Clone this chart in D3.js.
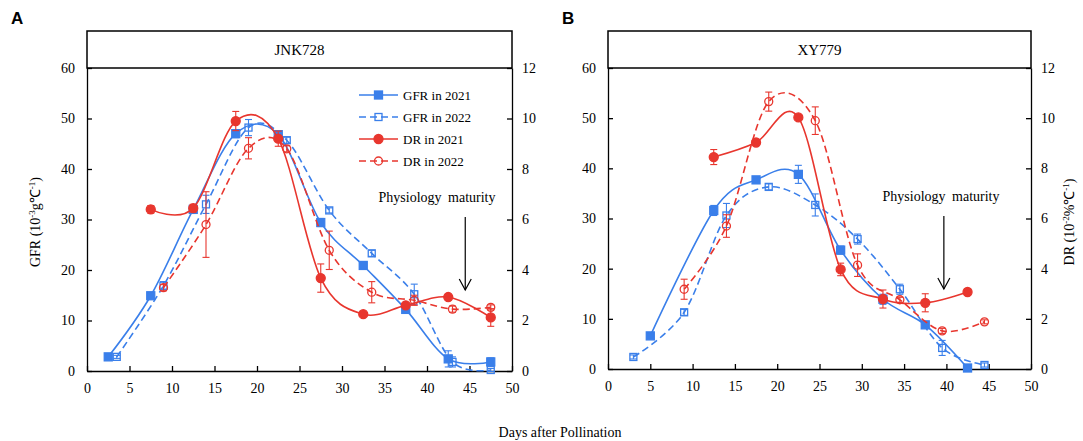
<!DOCTYPE html>
<html>
<head>
<meta charset="utf-8">
<script src="https://cdnjs.cloudflare.com/ajax/libs/d3/7.8.5/d3.min.js"></script>
<style>
  body { margin: 0; background: #fff; }
  svg { display: block; font-family: "Liberation Serif", "Times New Roman", serif; }
</style>
</head>
<body>
<svg id="chart" width="1083" height="441"></svg>
<script>
// ---- donnees ----
var xTicks = [0, 5, 10, 15, 20, 25, 30, 35, 40, 45, 50];
var gfrTicks = [0, 10, 20, 30, 40, 50, 60];
var drTicks = [0, 2, 4, 6, 8, 10, 12];
var legendLabels = ["GFR in 2021", "GFR in 2022", "DR in 2021", "DR in 2022"];

// JNK728
var jnkGfr21Day = [2.5, 7.5, 12.5, 17.5, 22.5, 27.5, 32.5, 37.5, 42.5, 47.5];
var jnkGfr21 = [2.8, 14.9, 32.0, 47.0, 46.8, 29.4, 20.9, 12.2, 2.4, 1.8];
var jnkGfr21Err = [0.3, 0.6, 0.8, 0.8, 0.6, 0.8, 0.5, 0.6, 1.6, 0.8];
var jnkGfr22Day = [3.5, 9, 14, 19, 23.5, 28.5, 33.5, 38.5, 43, 47.5];
var jnkGfr22 = [2.8, 16.9, 33.0, 48.2, 45.7, 31.8, 23.3, 15.2, 1.8, 0.2];
var jnkGfr22Err = [0.3, 0.8, 1.8, 1.6, 0.6, 0.5, 0.6, 2.0, 1.0, 0.3];
var jnkDr21Day = [7.5, 12.5, 17.5, 22.5, 27.5, 32.5, 37.5, 42.5, 47.5];
var jnkDr21 = [6.4, 6.45, 9.9, 9.2, 3.68, 2.25, 2.6, 2.93, 2.12];
var jnkDr21Err = [0.15, 0.15, 0.38, 0.3, 0.56, 0.08, 0.08, 0.08, 0.35];
var jnkDr22Day = [9, 14, 19, 23.5, 28.5, 33.5, 38.5, 43, 47.5];
var jnkDr22 = [3.3, 5.8, 8.82, 8.8, 4.78, 3.12, 2.8, 2.45, 2.52];
var jnkDr22Err = [0.12, 1.3, 0.42, 0.12, 0.76, 0.42, 0.2, 0.12, 0.1];

// XY779
var xyGfr21Day = [5, 12.5, 17.5, 22.5, 27.5, 32.5, 37.5, 42.5];
var xyGfr21 = [6.6, 31.6, 37.7, 38.8, 23.7, 13.9, 8.8, 0.2];
var xyGfr21Err = [0.5, 1.0, 0.6, 1.8, 0.8, 1.0, 0.6, 0.3];
var xyGfr22Day = [3, 9, 14, 19, 24.5, 29.5, 34.5, 39.5, 44.5];
var xyGfr22 = [2.4, 11.3, 30.6, 36.3, 32.7, 25.9, 15.9, 4.2, 0.8];
var xyGfr22Err = [0.4, 0.6, 2.4, 0.6, 2.2, 1.0, 1.0, 1.5, 0.4];
var xyDr21Day = [12.5, 17.5, 22.5, 27.5, 32.5, 37.5, 42.5];
var xyDr21 = [8.45, 9.03, 10.03, 3.97, 2.79, 2.64, 3.07];
var xyDr21Err = [0.3, 0.1, 0.1, 0.25, 0.36, 0.36, 0.12];
var xyDr22Day = [9, 14, 19, 24.5, 29.5, 34.5, 39.5, 44.5];
var xyDr22 = [3.18, 5.7, 10.66, 9.9, 4.14, 2.76, 1.52, 1.88];
var xyDr22Err = [0.4, 0.45, 0.38, 0.55, 0.45, 0.1, 0.1, 0.08];

var blue = "#3a7fea", red = "#e8362e";

var svg = d3.select("#chart");

function pts(days, vals, errs) {
    return days.map(function(d, i) { return {x: d, y: vals[i], e: errs[i]}; });
}

function drawPanel(p) {
    var x = d3.scaleLinear().domain([0, 50]).range([p.left, p.right]);
    var y = d3.scaleLinear().domain([0, 60]).range([p.bottom, p.top]);
    var y2 = d3.scaleLinear().domain([0, 12]).range([p.bottom, p.top]);
    var g = svg.append("g");

    // cadre du titre
    g.append("rect")
        .attr("x", p.left).attr("y", p.top - 37)
        .attr("width", p.right - p.left).attr("height", 37)
        .attr("fill", "none").attr("stroke", "#000").attr("stroke-width", 1.5);
    g.append("text")
        .attr("x", (p.left + p.right) / 2).attr("y", p.top - 13)
        .attr("text-anchor", "middle").style("font-size", "15px")
        .text(p.title);

    // axes
    var ax = g.append("g").attr("transform", "translate(0," + p.bottom + ")")
        .call(d3.axisBottom(x).tickValues(xTicks).tickSizeInner(-5).tickSizeOuter(0).tickPadding(12));
    var ay = g.append("g").attr("transform", "translate(" + p.left + ",0)")
        .call(d3.axisLeft(y).tickValues(gfrTicks).tickSizeInner(-5).tickSizeOuter(0).tickPadding(12));
    var ay2 = g.append("g").attr("transform", "translate(" + p.right + ",0)")
        .call(d3.axisRight(y2).tickValues(drTicks).tickSizeInner(-5).tickSizeOuter(0).tickPadding(10));
    [ax, ay, ay2].forEach(function(a) {
        a.selectAll("path, line").attr("stroke", "#000").attr("stroke-width", 1.3);
        a.selectAll("text").attr("fill", "#000")
            .style("font-family", "Liberation Serif, serif").style("font-size", "14px");
    });

    // courbes
    var series = [
        {data: pts(p.g21d, p.g21, p.g21e), sc: y, col: blue, dash: null, mark: "sq", fill: true},
        {data: pts(p.g22d, p.g22, p.g22e), sc: y, col: blue, dash: "7,4", mark: "sq", fill: false},
        {data: pts(p.d21d, p.d21, p.d21e), sc: y2, col: red, dash: null, mark: "ci", fill: true},
        {data: pts(p.d22d, p.d22, p.d22e), sc: y2, col: red, dash: "7,4", mark: "ci", fill: false}
    ];
    series.forEach(function(s) {
        var line = d3.line().curve(d3.curveCatmullRom.alpha(0))
            .x(function(d) { return x(d.x); })
            .y(function(d) { return s.sc(d.y); });
        var sg = g.append("g");
        sg.append("path").datum(s.data)
            .attr("d", line).attr("fill", "none")
            .attr("stroke", s.col).attr("stroke-width", 1.6)
            .attr("stroke-dasharray", s.dash);
        // barres d'erreur
        var eb = sg.selectAll(".eb").data(s.data).enter().append("g")
            .attr("stroke", s.col).attr("stroke-width", 1.1);
        eb.append("line")
            .attr("x1", function(d) { return x(d.x); }).attr("x2", function(d) { return x(d.x); })
            .attr("y1", function(d) { return s.sc(d.y - d.e); })
            .attr("y2", function(d) { return s.sc(d.y + d.e); });
        [-1, 1].forEach(function(k) {
            eb.append("line")
                .attr("x1", function(d) { return x(d.x) - 3.5; })
                .attr("x2", function(d) { return x(d.x) + 3.5; })
                .attr("y1", function(d) { return s.sc(d.y + k * d.e); })
                .attr("y2", function(d) { return s.sc(d.y + k * d.e); });
        });
        // marqueurs
        var m = sg.selectAll(".m").data(s.data).enter();
        if (s.mark === "sq") {
            var sz = s.fill ? 8 : 7;
            m.append("rect")
                .attr("x", function(d) { return x(d.x) - sz / 2; })
                .attr("y", function(d) { return s.sc(d.y) - sz / 2; })
                .attr("width", sz).attr("height", sz)
                .attr("fill", s.fill ? s.col : "none")
                .attr("stroke", s.col).attr("stroke-width", 1.3);
        } else {
            m.append("circle")
                .attr("cx", function(d) { return x(d.x); })
                .attr("cy", function(d) { return s.sc(d.y); })
                .attr("r", s.fill ? 4.5 : 4)
                .attr("fill", s.fill ? s.col : "none")
                .attr("stroke", s.col).attr("stroke-width", 1.3);
        }
    });

    // maturite physiologique
    g.append("text").attr("x", p.matX).attr("y", p.matTxtY)
        .attr("text-anchor", "middle").style("font-size", "14px").style("word-spacing", "3px")
        .text("Physiology maturity");
    var ar = x(p.matDay);
    g.append("line").attr("x1", ar).attr("x2", ar)
        .attr("y1", p.matTxtY + 15).attr("y2", p.matTxtY + 88)
        .attr("stroke", "#000").attr("stroke-width", 1.2);
    g.append("path")
        .attr("d", "M" + (ar - 6) + "," + (p.matTxtY + 77) + "L" + ar + "," + (p.matTxtY + 88) + "L" + (ar + 6) + "," + (p.matTxtY + 77))
        .attr("fill", "none").attr("stroke", "#000").attr("stroke-width", 1.2);

    // lettre du panneau
    svg.append("text").attr("x", p.letterX).attr("y", 24)
        .style("font-family", "Liberation Sans, Arial, sans-serif")
        .style("font-weight", "bold").style("font-size", "17px")
        .text(p.letter);

    return {series: series};
}

var pA = drawPanel({
    left: 87, right: 512, top: 68, bottom: 371, title: "JNK728", letter: "A", letterX: 11,
    g21d: jnkGfr21Day, g21: jnkGfr21, g21e: jnkGfr21Err,
    g22d: jnkGfr22Day, g22: jnkGfr22, g22e: jnkGfr22Err,
    d21d: jnkDr21Day, d21: jnkDr21, d21e: jnkDr21Err,
    d22d: jnkDr22Day, d22: jnkDr22, d22e: jnkDr22Err,
    matX: 437, matTxtY: 202, matDay: 44.5
});
var pB = drawPanel({
    left: 608, right: 1031, top: 68, bottom: 369, title: "XY779", letter: "B", letterX: 562,
    g21d: xyGfr21Day, g21: xyGfr21, g21e: xyGfr21Err,
    g22d: xyGfr22Day, g22: xyGfr22, g22e: xyGfr22Err,
    d21d: xyDr21Day, d21: xyDr21, d21e: xyDr21Err,
    d22d: xyDr22Day, d22: xyDr22, d22e: xyDr22Err,
    matX: 941, matTxtY: 201, matDay: 39.7
});

// legende (panneau A)
var leg = svg.append("g");
pA.series.forEach(function(s, i) {
    var ly = 95 + i * 22;
    leg.append("line").attr("x1", 359).attr("x2", 398).attr("y1", ly).attr("y2", ly)
        .attr("stroke", s.col).attr("stroke-width", 1.6).attr("stroke-dasharray", s.dash);
    if (s.mark === "sq") {
        var sz = s.fill ? 8 : 7;
        leg.append("rect").attr("x", 378.5 - sz / 2).attr("y", ly - sz / 2)
            .attr("width", sz).attr("height", sz)
            .attr("fill", s.fill ? s.col : "none").attr("stroke", s.col).attr("stroke-width", 1.3);
    } else {
        leg.append("circle").attr("cx", 378.5).attr("cy", ly).attr("r", s.fill ? 4.5 : 4)
            .attr("fill", s.fill ? s.col : "none").attr("stroke", s.col).attr("stroke-width", 1.3);
    }
    leg.append("text").attr("x", 403).attr("y", ly + 5).style("font-size", "13px")
        .text(legendLabels[i]);
});

// titres des axes
var t1 = svg.append("text").attr("transform", "translate(40,222) rotate(-90)")
    .attr("text-anchor", "middle").style("font-size", "14px");
t1.append("tspan").text("GFR (10");
t1.append("tspan").attr("baseline-shift", "super").style("font-size", "9px").text("-3");
t1.append("tspan").text("g℃");
t1.append("tspan").attr("baseline-shift", "super").style("font-size", "9px").text("-1");
t1.append("tspan").text(")");

var t2 = svg.append("text").attr("transform", "translate(1074,222) rotate(-90)")
    .attr("text-anchor", "middle").style("font-size", "14px");
t2.append("tspan").text("DR (10");
t2.append("tspan").attr("baseline-shift", "super").style("font-size", "9px").text("-2");
t2.append("tspan").text("%℃");
t2.append("tspan").attr("baseline-shift", "super").style("font-size", "9px").text("-1");
t2.append("tspan").text(")");

svg.append("text").attr("x", 560).attr("y", 437).attr("text-anchor", "middle")
    .style("font-size", "14px").text("Days after Pollination");
</script>
</body>
</html>
